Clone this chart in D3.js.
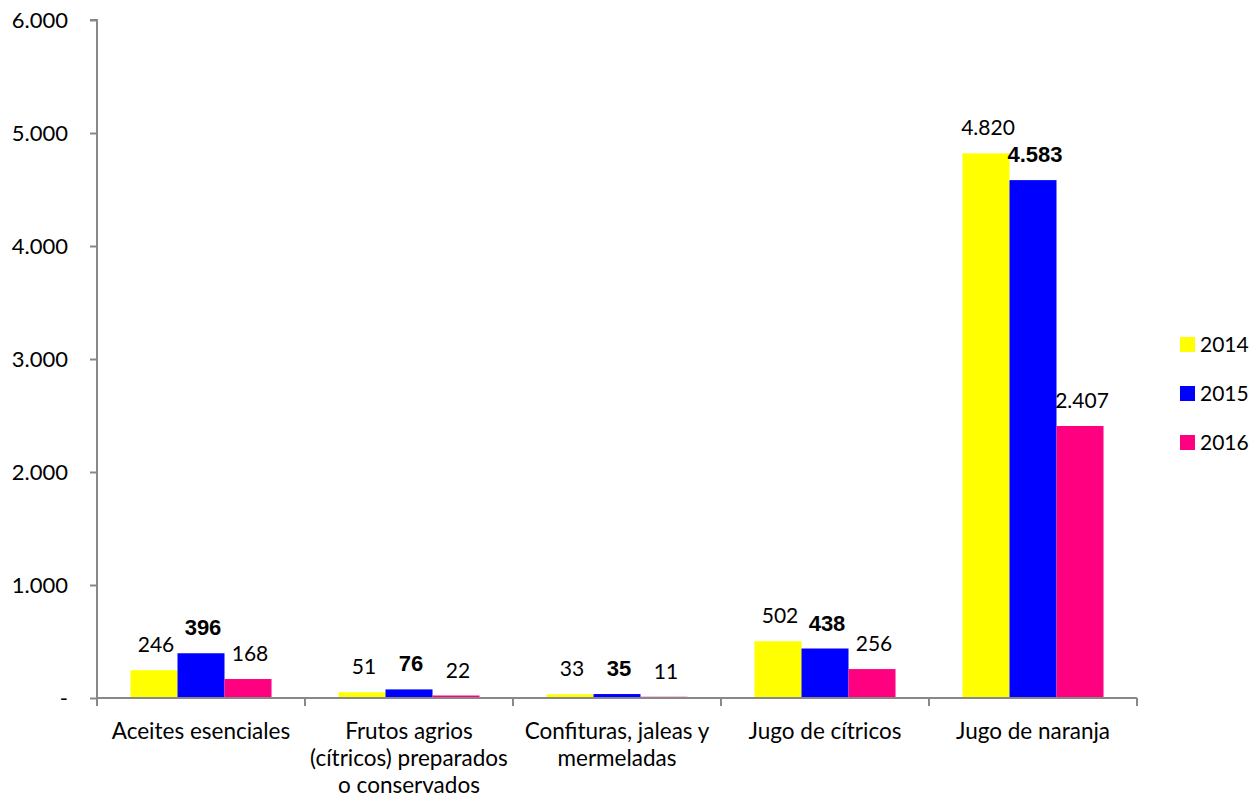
<!DOCTYPE html>
<html><head><meta charset="utf-8">
<script src="https://cdn.jsdelivr.net/npm/d3@7"></script>
<style>body{margin:0;background:#fff}svg{display:block}</style>
</head><body>
<script>
const categories = [["Aceites esenciales"],["Frutos agrios","(cítricos) preparados","o conservados"],["Confituras, jaleas y","mermeladas"],["Jugo de cítricos"],["Jugo de naranja"]];
const seriesNames = ["2014","2015","2016"];
const values2014 = [246, 51, 33, 502, 4820];
const values2015 = [396, 76, 35, 438, 4583];
const values2016 = [168, 22, 11, 256, 2407];
const colors = ["#FFFF00","#0000FF","#FF0080"];
const yTicks = [0,1000,2000,3000,4000,5000,6000];
const series = [values2014, values2015, values2016];

const W=1256,H=799;
const svg=d3.select("body").append("svg").attr("width",W).attr("height",H);
const font="Lato, 'Open Sans', sans-serif";
const x0=d3.scaleBand().domain(d3.range(categories.length)).range([97,1137]).paddingInner(0.322).paddingOuter(0.161);
const x1=d3.scaleBand().domain(d3.range(3)).range([0,x0.bandwidth()]);
const y=d3.scaleLinear().domain([0,6000]).range([698,20]);
const fmt=v=> v===0?"-":d3.formatLocale({decimal:",",thousands:".",grouping:[3]}).format(",")(v);

// bars
series.forEach((vals,s)=>{
  svg.append("g").selectAll("rect").data(vals).join("rect")
    .attr("x",(d,i)=>x0(i)+x1(s)).attr("width",x1.bandwidth())
    .attr("y",d=>y(d)).attr("height",d=>y(0)-y(d)).attr("fill",colors[s]);
  svg.append("g").selectAll("text").data(vals).join("text")
    .attr("x",(d,i)=>x0(i)+x1(s)+x1.bandwidth()/2+2).attr("y",d=>y(d)-18)
    .attr("text-anchor","middle")
    .attr("font-family", s===1?"'Liberation Sans', Arial, sans-serif":font)
    .attr("font-weight", s===1?"bold":"normal")
    .attr("font-size", s===1?22:21).attr("fill","#000").text(d=>fmt(d));
});

// y axis
const ya=svg.append("g").attr("transform","translate(97,0)")
  .call(d3.axisLeft(y).tickValues(yTicks).tickSize(7).tickPadding(22).tickFormat(fmt));
ya.selectAll("path,line").attr("stroke","#888").attr("stroke-width",2);
ya.select("path").attr("d","M-7,20H0V698");
ya.selectAll("text").attr("font-family",font).attr("font-size",22).attr("fill","#000").attr("dy","0.35em");

// x axis
const xa=svg.append("g");
xa.append("line").attr("x1",97).attr("x2",1137).attr("y1",698).attr("y2",698).attr("stroke","#888").attr("stroke-width",2);
const bounds=d3.range(categories.length+1).map(i=>97+i*(1040/categories.length));
xa.selectAll("line.t").data(bounds).join("line").attr("class","t")
  .attr("x1",d=>d).attr("x2",d=>d).attr("y1",698).attr("y2",706).attr("stroke","#888").attr("stroke-width",2);
categories.forEach((lines,i)=>{
  const t=svg.append("text").attr("text-anchor","middle").attr("font-family",font).attr("font-size",22.5).attr("fill","#000");
  lines.forEach((l,j)=>t.append("tspan").attr("x",x0(i)+x0.bandwidth()/2).attr("y",739+j*27).text(l));
});

// legend
const lg=svg.append("g");
seriesNames.forEach((n,i)=>{
  lg.append("rect").attr("x",1180).attr("y",337+i*49).attr("width",15).attr("height",15).attr("fill",colors[i]);
  lg.append("text").attr("x",1200).attr("y",352+i*49).attr("font-family",font).attr("font-size",21).attr("fill","#000").text(n);
});
</script>
</body></html>
